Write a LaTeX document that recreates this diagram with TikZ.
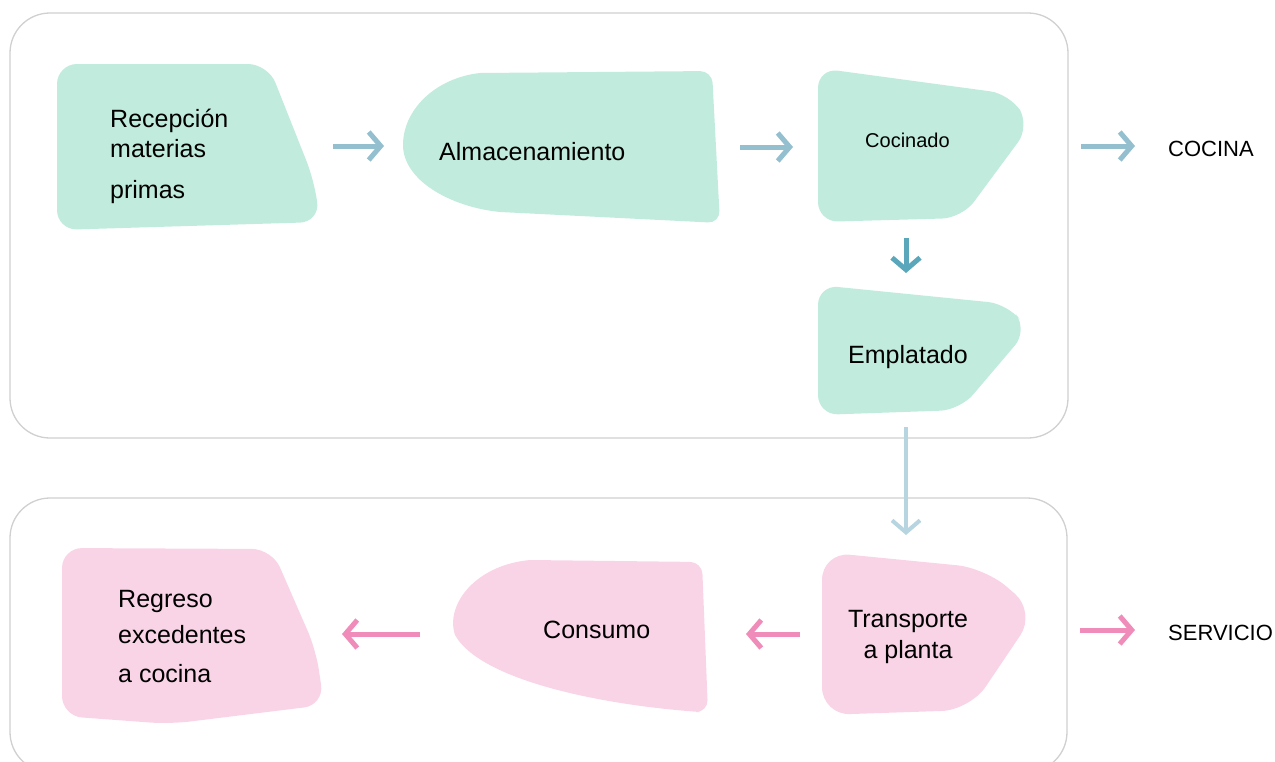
\documentclass[tikz,border=0pt]{standalone}
\usepackage{fontspec}
\setmainfont{Liberation Sans}
\usetikzlibrary{arrows.meta}
\definecolor{verde}{HTML}{C0EBDD}
\definecolor{rosa}{HTML}{F9D4E6}
\definecolor{azulclaro}{HTML}{94BFCE}
\definecolor{azul}{HTML}{5AA7BB}
\definecolor{azulpalido}{HTML}{B7D5E0}
\definecolor{rosafuerte}{HTML}{F08CB9}
\definecolor{gris}{HTML}{D0D0D0}
\begin{document}
\begin{tikzpicture}[x=1pt,y=-1pt,
  marco/.style={draw=gris,line width=1.3pt,rounded corners=40pt},
  paso/.style={rounded corners=20pt},
  flecha/.style={line width=5pt,-{Straight Barb[length=12pt,width=28pt]}},
  texto/.style={font=\fontsize{25}{30}\selectfont,inner sep=0pt,align=left,anchor=base west}]
  \useasboundingbox (0,0) rectangle (1275,761);
  % marcos
  \draw[marco] (10,13) rectangle (1068,438);
  \draw[marco] (10,498) rectangle (1067,772);
  % cocina
  \fill[verde,paso] (57,64) -- (268,64) -- (314,180) -- (320,222) -- (57,230) -- cycle;
  \fill[verde] (480,73) [rounded corners=12pt] -- (712,71) -- (720,223) [sharp corners] -- (500,212)
    .. controls (450,207) and (403,180) .. (403,145) .. controls (403,110) and (435,78) .. (480,73) -- cycle;
  \fill[verde,paso] (818,68) -- (1010,94) -- (1030,126) -- (962,218) -- (818,222) -- cycle;
  \fill[verde,paso] (818,285) -- (1008,304) -- (1028,330) -- (960,410) -- (818,415) -- cycle;
  % servicio
  \fill[rosa,paso] (62,548) -- (272,549) -- (316,650) -- (324,705) -- (170,724) -- (62,716) -- cycle;
  \fill[rosa] (530,560) [rounded corners=12pt] -- (702,562) -- (708,712) [sharp corners] -- (700,712)
    .. controls (600,705) and (480,680) .. (455,635) .. controls (445,605) and (475,565) .. (530,560) -- cycle;
  \fill[rosa,rounded corners=28pt] (822,552) -- (985,568) -- (1036,612) -- (970,710) -- (822,715) -- cycle;
  % textos
  \node[texto] (recepcion) at (110,198) {Recepción\\materias\\[11pt]primas};
  \node[texto] (almacen) at (439,160) {Almacenamiento};
  \node[texto,font=\fontsize{20}{24}\selectfont] (cocinado) at (865,147) {Cocinado};
  \node[texto] (emplatado) at (848,363) {Emplatado};
  \node[texto,font=\fontsize{22}{26}\selectfont] (cocina) at (1168,156) {COCINA};
  \node[texto] (regreso) at (118,682) {Regreso\\[6pt]excedentes\\[9pt]a cocina};
  \node[texto] (consumo) at (543,638) {Consumo};
  \node[texto,align=center,anchor=base,font=\fontsize{25}{31}\selectfont] (transporte) at (908,658) {Transporte\\a planta};
  \node[texto,font=\fontsize{22}{26}\selectfont] (servicio) at (1168,640) {SERVICIO};
  % flechas
  \coordinate (r1) at (333,146); \coordinate (r2) at (384,146);
  \coordinate (a1) at (740,147); \coordinate (a2) at (793,147);
  \coordinate (k1) at (1081,146); \coordinate (k2) at (1135,146);
  \coordinate (c1) at (906,238); \coordinate (c2) at (906,273);
  \coordinate (e1) at (906,427); \coordinate (e2) at (906,535);
  \coordinate (t1) at (800,634); \coordinate (t2) at (746,634);
  \coordinate (s1) at (420,634); \coordinate (s2) at (342,634);
  \coordinate (v1) at (1080,630); \coordinate (v2) at (1135,630);
  \draw[flecha,azulclaro] (r1) -- (r2);
  \draw[flecha,azulclaro] (a1) -- (a2);
  \draw[flecha,azulclaro] (k1) -- (k2);
  \draw[flecha,azul] (c1) -- (c2);
  \draw[flecha,azulpalido,line width=4pt] (e1) -- (e2);
  \draw[flecha,rosafuerte] (t1) -- (t2);
  \draw[flecha,rosafuerte] (s1) -- (s2);
  \draw[flecha,rosafuerte] (v1) -- (v2);
\end{tikzpicture}
\end{document}
